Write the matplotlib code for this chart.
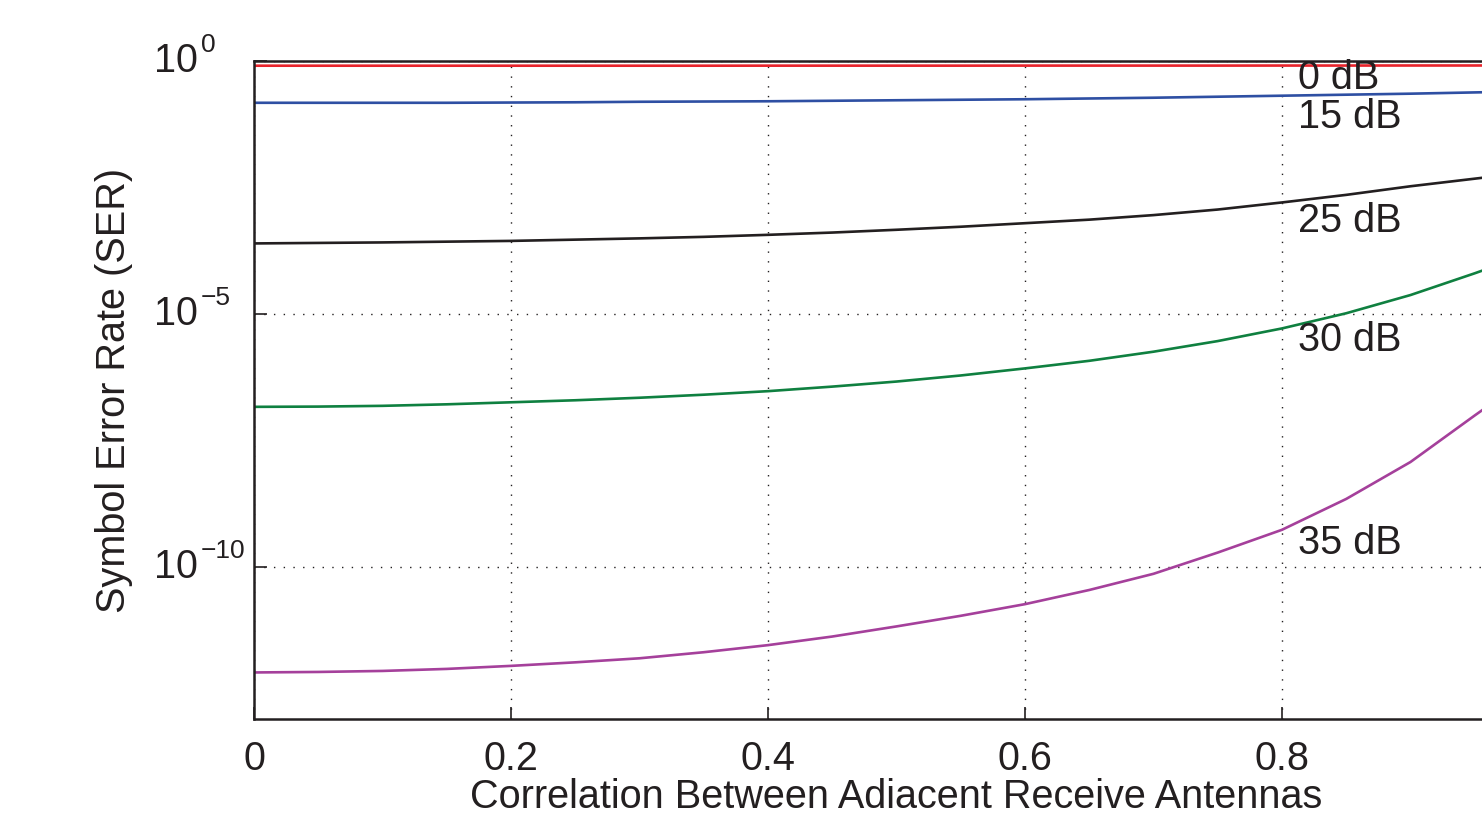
import numpy as np
import matplotlib.pyplot as plt
from matplotlib.transforms import offset_copy

plt.rcParams['font.family'] = ['Liberation Sans', 'DejaVu Sans']

# korelacja miedzy antenami (os x)
rho = [0.0, 0.05, 0.1, 0.15, 0.2, 0.25, 0.3, 0.35, 0.4, 0.45, 0.5,
       0.55, 0.6, 0.65, 0.7, 0.75, 0.8, 0.85, 0.9, 0.95, 0.96]

# wykladniki SER (log10)
ser_0db = [-0.087, -0.087, -0.087, -0.087, -0.087, -0.087, -0.087, -0.087, -0.086, -0.086, -0.086,
           -0.086, -0.085, -0.085, -0.085, -0.085, -0.084, -0.084, -0.083, -0.083, -0.082]
ser_15db = [-0.82, -0.82, -0.82, -0.82, -0.815, -0.81, -0.80, -0.795, -0.79, -0.78, -0.77,
            -0.76, -0.75, -0.735, -0.72, -0.70, -0.68, -0.66, -0.64, -0.615, -0.61]
ser_25db = [-3.60, -3.59, -3.58, -3.565, -3.55, -3.525, -3.50, -3.47, -3.43, -3.385, -3.33,
            -3.27, -3.20, -3.13, -3.04, -2.93, -2.79, -2.64, -2.47, -2.32, -2.29]
ser_30db = [-6.83, -6.825, -6.81, -6.78, -6.74, -6.70, -6.65, -6.59, -6.52, -6.43, -6.33,
            -6.21, -6.07, -5.92, -5.74, -5.53, -5.28, -4.98, -4.62, -4.19, -4.10]
ser_35db = [-12.08, -12.07, -12.05, -12.01, -11.95, -11.88, -11.80, -11.68, -11.54, -11.37, -11.17,
            -10.96, -10.73, -10.45, -10.13, -9.71, -9.26, -8.65, -7.92, -7.00, -6.82]

snr_labels = ['0 dB', '15 dB', '25 dB', '30 dB', '35 dB']
label_exp = [-0.336, -1.107, -3.16, -5.51, -9.53]
colors = ['#e8232b', '#2e4fa3', '#231f20', '#0f8040', '#a5409b']

y_ticks = [1e-10, 1e-5, 1]
y_tick_exp = ['\u221210', '\u22125', '0']

fig = plt.figure(figsize=(14.82, 8.15), dpi=100)
ax = fig.add_axes([254 / 1482, 1 - 719 / 815, 1285 / 1482, (719 - 61.3) / 815])

for ser, c in zip([ser_0db, ser_15db, ser_25db, ser_30db, ser_35db], colors):
    ax.semilogy(rho, 10.0 ** np.array(ser), color=c, linewidth=1.9)

for txt, e in zip(snr_labels, label_exp):
    ax.text(0.8125, 10.0 ** e, txt, fontsize=28.5, ha='left', va='center', color='#231f20')

ax.set_xlim(0, 1)
ax.set_ylim(1e-13, 1)
ax.set_xticks([0, 0.2, 0.4, 0.6, 0.8])
ax.set_xticklabels(['0', '0.2', '0.4', '0.6', '0.8'])
ax.set_yticks(y_ticks)
ax.set_yticklabels([])
ax.minorticks_off()
ax.tick_params(direction='in', length=9, width=1.2, labelsize=28.5, colors='#231f20')
ax.tick_params(axis='x', pad=15)
ax.grid(True, linestyle=(0, (1, 6)), color='#231f20', linewidth=1.0)

# etykiety osi y w stylu MATLAB: "10" wyrownane, wykladnik wystaje w prawo
ytrans = ax.get_yaxis_transform()
sup_trans = offset_copy(ytrans, fig=fig, x=2.0, y=6.5, units='points')
for yv, ex in zip(y_ticks, y_tick_exp):
    ax.text(-0.0435, yv, '10', transform=ytrans, fontsize=28.5, ha='right', va='center',
            color='#231f20', clip_on=False)
    ax.text(-0.0435, yv, ex, transform=sup_trans, fontsize=19, ha='left', va='baseline',
            color='#231f20', clip_on=False)

for s in ax.spines.values():
    s.set_linewidth(1.8)
    s.set_color('#231f20')

ax.set_xlabel('Correlation Between Adiacent Receive Antennas', fontsize=28.5, color='#231f20', labelpad=0)
ax.set_ylabel('Symbol Error Rate (SER)', fontsize=28.5, color='#231f20')
ax.yaxis.set_label_coords(-0.094, 0.5)

fig.savefig('out.png', dpi=100)
